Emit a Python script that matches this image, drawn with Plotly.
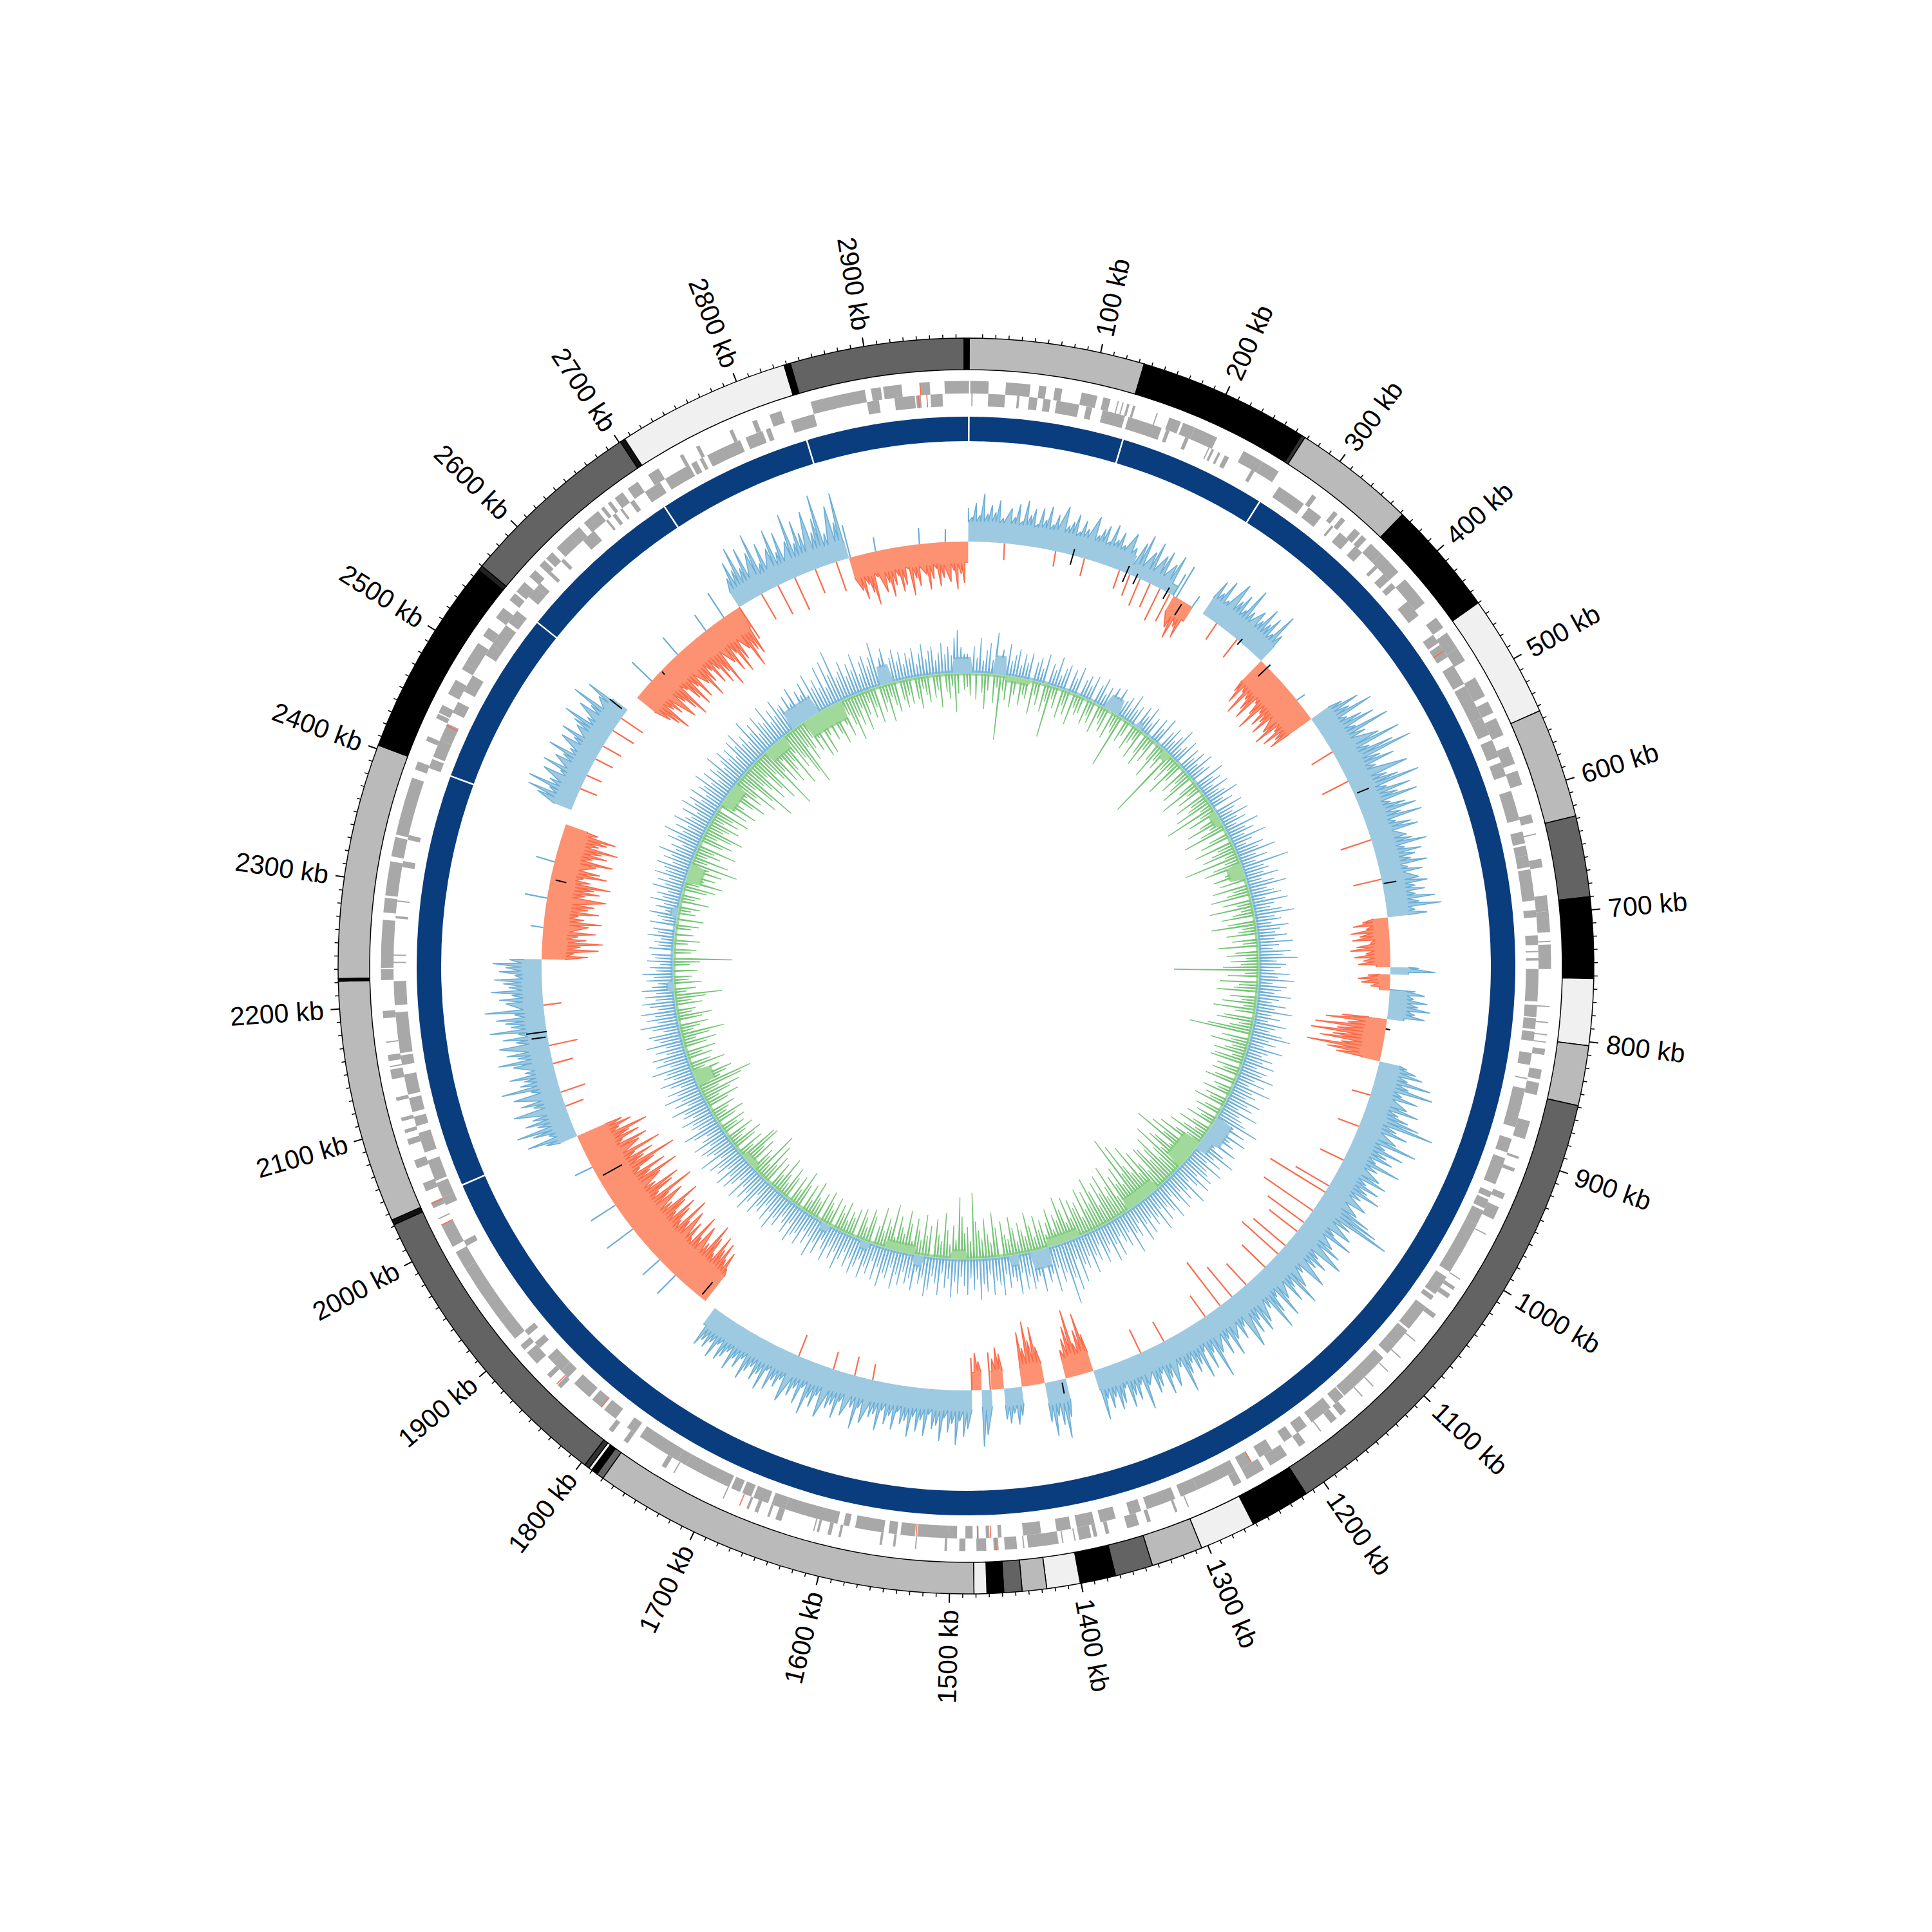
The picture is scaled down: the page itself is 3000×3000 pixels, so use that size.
import math
import plotly.graph_objects as go

GENOME_KB = 2980
ANGLE0 = 0.3
band_edges = [0,134,265,268,362,450,544,628,690,752,803,849,1216,1262,1305,1344.5,1373.4,1400.7,1426.3,1445,1458.9,1471.7,1481.5,1780,1785.5,1790.5,1793,1797,2031,2035,2221,2223,2403,2556,2560,2701,2705,2838,2843,2976,2980]
band_colors = ["#bababa","#000000","#333333","#bababa","#000000","#f0f0f0","#bababa","#636363","#000000","#f0f0f0","#bababa","#636363","#000000","#f0f0f0","#bababa","#636363","#000000","#f0f0f0","#bababa","#636363","#000000","#f0f0f0","#bababa","#636363","#000000","#f0f0f0","#333333","#636363","#111111","#bababa","#000000","#bababa","#000000","#222222","#636363","#111111","#f0f0f0","#000000","#636363","#000000"]
ring_breaks = [0,135,265,2038,2400,2553,2702,2838]
major_kb = list(range(100,3000,100))
minor_kb = list(range(0,2980,10))

fwd_runs = [(1,16),(30,50),(57,63),(70,76),(92,105),(110,116),(122,123),(126,127),(130,132),(135,137),(155,156),(166,176),(178,188),(188,208),(232,250),(250,265),(298,302),(320,324),(328,332),(342,348),(350,355),(360,372),(372,392),(400,425),(440,450),(455,470),(470,482),(498,515),(520,530),(535,550),(560,575),(581,593),(618,625),(634,635),(655,662),(685,698),(698,715),(722,723),(725,745),(775,776),(788,789),(798,799),(804,805),(810,815),(827,835),(838,848),(870,885),(900,902),(910,913),(932,937),(944,955),(968,969),(1010,1011),(1018,1021),(1025,1029),(1045,1049),(1072,1073),(1090,1091),(1105,1106),(1122,1123),(1134,1135),(1152,1158),(1162,1168),(1178,1179),(1194,1200),(1212,1228),(1234,1250),(1255,1262),(1302,1303),(1312,1314),(1335,1338),(1345,1355),(1370,1373),(1380,1383),(1385,1395),(1398,1399),(1408,1409),(1412,1437),(1440,1441),(1446,1456),(1461,1465),(1471,1479),(1488,1493),(1503,1505),(1528,1529),(1545,1547),(1556,1558),(1590,1592),(1598,1601),(1608,1610),(1612,1613),(1640,1645),(1650,1652),(1660,1663),(1668,1670),(1690,1691),(1735,1736),(1743,1747),(1780,1784),(1795,1799),(1850,1854),(1862,1866),(1878,1890),(1893,1898),(1905,1925),(1925,1975),(1975,1990),(1995,2015),(2020,2021),(2030,2035),(2045,2052),(2065,2072),(2085,2090),(2095,2098),(2105,2108),(2122,2125),(2140,2148),(2150,2151),(2155,2160),(2170,2171),(2190,2196),(2221,2230),(2231,2270),(2276,2288),(2290,2318),(2322,2338),(2340,2388),(2395,2402),(2420,2424),(2440,2444),(2445,2452),(2462,2475),(2485,2490),(2490,2498),(2495,2510),(2517,2525),(2535,2545),(2553,2560),(2562,2572),(2578,2585),(2590,2596),(2598,2605),(2610,2625),(2625,2635),(2640,2655),(2658,2661),(2665,2668),(2672,2680),(2685,2695),(2705,2715),(2735,2738),(2750,2753),(2780,2783),(2800,2804),(2815,2825),(2850,2895),(2900,2908),(2910,2925),(2940,2948),(2960,2980)]
rev_runs = [(2,3),(16,30),(40,42),(50,57),(62,68),(73,92),(98,103),(112,131),(134,163),(167,170),(184,187),(205,206),(208,210),(214,216),(220,224),(245,248),(272,297),(302,315),(326,328),(335,345),(352,360),(375,378),(385,392),(395,400),(415,430),(450,458),(460,472),(480,498),(500,530),(530,545),(550,565),(570,582),(595,620),(630,640),(642,650),(650,660),(662,688),(696,702),(717,725),(730,731),(736,738),(745,772),(775,785),(786,795),(797,805),(815,825),(836,837),(845,878),(888,900),(905,912),(910,928),(935,940),(942,950),(952,965),(965,1010),(1015,1023),(1020,1032),(1034,1038),(1045,1068),(1070,1085),(1085,1095),(1100,1118),(1115,1130),(1128,1145),(1146,1155),(1160,1180),(1185,1195),(1200,1208),(1220,1232),(1240,1250),(1255,1290),(1290,1305),(1310,1335),(1340,1350),(1362,1375),(1380,1395),(1400,1412),(1425,1440),(1458,1461),(1468,1471),(1477,1478),(1482,1488),(1495,1502),(1502,1528),(1530,1542),(1545,1552),(1556,1580),(1585,1590),(1595,1605),(1603,1640),(1640,1652),(1655,1668),(1670,1678),(1680,1688),(1690,1730),(1730,1738),(1738,1775),(1780,1788),(1800,1812),(1815,1825),(1828,1845),(1852,1860),(1860,1870),(1870,1876),(1886,1892),(1900,1905),(1990,1995),(2028,2035),(2035,2048),(2050,2068),(2075,2092),(2098,2106),(2110,2122),(2125,2142),(2150,2158),(2160,2194),(2200,2220),(2235,2236),(2241,2242),(2272,2274),(2286,2287),(2315,2320),(2338,2342),(2400,2408),(2410,2425),(2425,2440),(2450,2460),(2470,2485),(2505,2515),(2515,2535),(2538,2550),(2565,2575),(2575,2580),(2590,2593),(2605,2608),(2630,2642),(2655,2657),(2662,2665),(2670,2672),(2680,2684),(2695,2710),(2715,2738),(2740,2745),(2748,2751),(2755,2785),(2790,2805),(2808,2812),(2830,2850),(2895,2905),(2918,2935),(2936,2940),(2948,2958)]
red_gene_fwd = [1463,1676,1855,2940,2034,2015]
red_gene_rev = [1467,1478,1529,1815,2438,2938,2945,466,1240]

track1_regions = [(0,185,1,30),(185,240,1,16),(240,265,-1,26),(278,362,1,30),(362,448,-1,42),(448,688,1,32),(688,744,-1,22),(744,752,1,28),(752,770,-1,16),(770,802,1,26),(802,850,-1,28),(850,1343,1,31),(1343,1375,-1,30),(1375,1399,1,32),(1399,1425,-1,30),(1425,1445,1,26),(1445,1459,-1,28),(1459,1470,1,26),(1470,1481,-1,28),(1481,1788,1,30),(1801,2037,-1,48),(2037,2240,1,28),(2240,2394,-1,36),(2411,2540,1,28),(2557,2710,-1,35),(2710,2845,1,26),(2845,2980,-1,32)]
track1_values = [
52,38,60,41,75,44,58,47,66,39,-26,55,42,63,37,70,48,59,36,62,
45,67,40,56,-24,72,43,51,64,38,57,46,-28,69,41,53,60,37,66,44,
58,40,-30,63,42,-35,55,70,-45,48,66,-40,50,60,-55,45,62,-48,38,55,
-50,-65,-42,-58,20,30,10,50,62,45,70,40,-30,78,52,66,44,85,50,-35,
60,48,74,52,67,43,82,50,-62,-80,-55,-92,-60,-75,-88,-52,-70,-95,-58,-78,
-66,-85,15,-72,-90,-58,-82,-64,-76,55,80,60,96,48,70,88,52,105,62,-38,
78,110,55,92,120,64,84,50,-45,98,60,76,108,52,88,65,94,48,70,85,
58,90,46,68,78,-50,55,62,84,47,72,60,52,76,44,66,-45,58,70,50,
64,48,78,52,86,44,62,-40,-55,-35,-60,-46,-58,-30,-52,-62,-38,-56,-42,-50,
45,70,-35,-50,-45,-30,40,55,38,60,46,65,42,58,-70,-95,-60,-110,-75,-115,
-80,-100,-65,-118,-85,-70,45,60,72,50,88,55,95,48,75,-30,62,82,52,70,
90,115,58,78,-35,65,100,52,84,60,72,48,90,56,-40,66,80,50,74,58,
82,54,-60,70,-100,62,88,105,128,66,-92,75,50,85,-70,60,78,-55,90,52,
72,58,-65,84,48,-75,66,92,54,76,-50,60,88,46,70,95,52,-45,68,80,
55,74,-60,90,48,66,-85,58,82,50,72,-40,62,100,54,78,45,86,60,70,
50,65,92,48,-35,74,56,80,44,62,70,-40,52,88,46,68,58,75,42,64,
72,50,66,48,80,-60,-95,-70,-50,-105,-80,-62,-45,60,92,70,55,85,62,-58,
-90,-70,-100,-60,-85,45,58,40,55,48,-55,-65,-48,-58,70,88,-45,-58,-50,60,
72,48,85,52,66,44,80,56,62,40,74,50,68,46,78,54,60,42,70,50,
64,44,76,52,58,-25,70,48,82,50,-30,66,46,74,55,62,-28,80,48,68,
56,84,44,72,50,64,-35,78,46,60,52,70,42,76,54,66,48,58,74,44,
62,50,72,46,58,66,44,70,48,60,52,64,40,0,0,0,-60,-85,-70,-95,
-80,-100,-65,-90,-110,-72,40,-95,-70,-105,-60,-85,35,-98,-75,-112,-66,-88,-102,-70,
-92,-118,-74,50,-100,-80,-125,-68,-96,-110,-72,45,-88,-120,-76,-105,-64,-92,-130,-80,
-98,-70,-115,30,-85,-100,-62,-92,-78,-110,-66,-88,-75,50,78,40,64,88,52,70,
56,-30,82,48,66,-40,74,44,90,58,50,72,46,-32,62,84,52,68,-45,78,
50,70,44,88,54,62,76,46,92,-28,58,68,48,80,52,60,74,42,66,56,
76,50,-72,-50,-88,-60,-95,-68,-55,-82,20,-70,-90,-62,-52,-84,-66,-75,35,-92,
-58,-80,-70,-95,-62,-50,-86,-74,30,-65,-90,-56,-78,-68,-92,-60,-72,-84,-54,-76,
0,0,0,0,60,78,45,82,50,-28,66,40,72,-25,58,48,75,42,-30,64,
46,70,-32,52,60,80,44,-38,66,50,85,-40,48,72,42,0,0,0,0,-62,
-75,-90,-55,-68,42,-85,-60,-78,-95,-50,-72,-88,-58,-82,35,-65,-92,-70,-54,-80,
-60,-88,-72,-100,30,-66,-84,-56,-92,-74,45,-62,-96,-70,-80,-58,48,72,55,90,
52,82,-45,68,96,44,74,-50,60,88,48,78,-55,58,100,50,84,62,-40,92,
56,76,112,48,-48,88,60,105,52,-55,-70,-48,-62,-82,-40,22,-66,-52,-75,-58,
-44,-70,-60,-36,-78,-52,-65,25,-48,-72,-56,-40,-68,-55,20,-62,-45,-74,-50,-64]
track1_black = [(118,-15,10),(181,-15,12),(193,-12,6),(231,-12,8),(252,-25,-5),(330,-6,6),(372,-20,6),(545,5,25),(650,2,22),(813,0,7),(1380,5,22),(1808,-30,-5),(2159,0,32),(2153,3,25),(1984,-42,-8),(2330,-25,-8),(2537,8,32),(2597,-8,-2)]

gc_up = [
30,18,42,24,55,20,36,48,22,65,28,40,18,50,24,34,44,20,38,26,
42,16,30,38,22,46,18,34,26,48,20,32,40,16,36,24,44,18,28,36,
22,40,16,30,44,20,34,18,38,26,42,16,28,36,20,46,24,32,18,38,
26,44,20,32,16,38,24,46,18,30,40,22,34,50,20,28,42,18,36,24,
40,22,46,26,34,18,50,28,38,20,44,24,32,52,22,36,18,46,30,24,
48,26,38,20,54,30,42,24,58,32,20,46,36,62,28,44,24,75,34,40,
30,52,24,42,60,28,38,48,22,56,34,26,44,62,30,40,24,50,36,28,
46,26,54,32,22,50,38,60,28,42,34,24,48,30,56,22,44,36,26,52,
34,24,46,30,58,26,40,22,52,36,28,48,62,30,42,24,56,34,26,44,
30,50,24,42,36,56,28,46,22,60,32,40,26,52,34,44,24,58,30,38,
46,70,32,54,26,62,38,48,30,58,24,44,66,34,50,28,60,36,42,54,
30,58,40,26,64,34,48,28,56,38,24,60,44,32,52,28,62,36,46,30,
54,34,60,26,46,38,68,30,50,40,28,58,36,62,32,44,56,26,48,38,
64,34,52,44,70,32,80,58,98,46,60,36,72,42,54,30,66,40,48,58,
38,56,30,62,42,34,50,28,60,44,36,58,26,52,40,64,32,48,30,56,
42,28,54,36,60,32,46,24,58,40,30,52,62,34,44,26,56,38,48,30,
52,36,60,28,46,40,62,32,54,26,48,38,58,30,44,56,34,50,28,42,
60,34,48,30,56,40,26,52,36,62,32,46,28,54,38,44,58,30,50,36,
28,48,38,60,34,52,30,46,40,56,26,44,62,36,50,32,58,28,42,54,
36,58,30,48,40,54,28,62,34,44,50,30,56,38,26,46,60,32,42,36,
52,30,44,38,58,28,48,34,60,36,50,26,42,56,32,46,40,62,30,52,
38,54,30,46,28,58,36,44,50,26,42,60,32,48,34,56,28,40,52,30,
46,28,50,34,24,42,30,48,26,36,20,40,28,34,18,38,24,30,20,42,
26,34,18,40,22,30,44,20,36,24,46,28,38,22,48,30,42,26,50,34,
38,52,28,44,34,56,30,40,24,50,36,60,32,46,28,54,38,30,48,26,
56,36,48,30,52,28,44,38,58,32,50,26,46,36,60,30,42,54,34,48,
28,54,40,60,34,46,30,64,38,50,28,56,42,36,62,30,48,34,58,40,
44,30,52,36,60,28,48,38,56,32,64,40,50,34,66,30,70,46,82,36,
44,58,32,50,38,62,28,46,54,36,48,70,30,42,56,26,38,50,30,44,
24,40,32,46,20,36,50,26,38,44,22,34,48,30,42,28,55,67,40,30]
gc_down = [
22,35,14,41,18,30,55,26,16,45,20,101,24,38,15,48,28,19,42,25,
30,16,52,22,36,18,44,27,82,20,33,14,46,24,38,17,50,21,31,26,
18,40,24,34,15,46,20,28,38,16,44,22,30,85,19,36,25,14,42,28,
20,48,16,34,52,22,40,18,30,58,24,36,14,117,26,44,20,62,32,17,
46,24,38,55,18,30,66,22,42,16,52,28,36,60,20,82,26,48,15,34,
58,22,40,70,18,32,48,16,62,26,38,54,20,87,24,44,60,18,30,50,
22,42,16,56,26,36,62,18,46,24,68,20,34,52,16,44,70,22,30,48,
18,40,24,62,14,36,50,20,44,28,56,132,22,48,16,60,30,38,64,18,
42,24,54,20,66,32,16,48,58,22,36,70,98,18,44,28,60,24,34,50,
20,46,52,16,38,26,42,18,34,48,14,30,22,44,16,36,26,50,18,28,
40,16,34,24,46,18,30,52,20,38,60,26,44,70,30,80,55,103,36,62,
70,42,88,50,34,76,58,40,65,70,30,48,72,36,90,44,60,100,52,118,
38,70,44,60,28,82,50,36,74,46,67,30,56,80,40,62,34,70,26,52,
44,60,32,67,28,50,72,36,46,24,58,38,20,44,30,54,22,40,62,26,
36,48,20,42,60,26,34,55,18,46,70,24,38,62,30,44,58,103,28,50,
40,66,96,30,52,22,44,70,26,36,60,18,48,32,64,24,40,56,20,46,
66,28,38,54,20,70,34,46,24,60,30,16,42,52,22,36,48,18,44,28,
36,20,48,28,40,16,46,24,34,50,18,42,26,30,54,20,44,16,38,59,
24,44,18,36,50,20,32,58,24,42,16,48,28,62,22,75,30,40,18,50,
34,66,63,24,44,16,38,52,20,30,46,18,36,26,42,14,32,48,22,28,
40,18,34,54,24,44,62,30,70,87,38,50,60,28,44,22,55,34,18,40,
26,48,16,36,52,22,44,68,20,32,46,18,38,54,24,30,16,42,26,48,
74,20,34,14,44,24,30,12,38,18,26,42,92,16,28,36,12,22,40,18,
30,14,24,36,18,42,12,28,20,34,16,46,22,30,14,38,50,24,60,28,
44,18,52,30,74,24,56,20,40,28,62,18,36,50,22,44,61,26,34,48,
20,42,30,54,16,46,24,58,34,20,44,63,26,50,38,72,28,60,95,34,
48,70,30,58,80,36,50,103,42,64,28,72,54,40,85,32,60,46,76,97,
36,62,44,28,54,34,68,22,68,40,30,52,24,46,64,20,38,58,26,44,
70,34,50,24,60,38,20,46,30,56,18,42,28,60,22,36,48,16,32,44,
26,40,16,34,50,20,30,42,18,36,24,52,15,28,40,20,60,32,18,26]
gc_up_bands = [(2680,2730,30),(2840,2860,30),(2960,2980,25),(0,8,25),(40,60,30),(230,255,25),(290,300,12),(1000,1040,30),(1040,1060,20),(1355,1385,30),(1405,1420,18),(1555,1570,18),(1645,1660,14),(1715,1730,14),(2195,2210,12),(2310,2325,12)]
gc_down_bands = [(2700,2770,30),(2620,2660,22),(2510,2550,22),(2370,2400,25),(2035,2060,30),(1870,1900,12),(1570,1620,15),(1490,1510,15),(1300,1355,15),(1150,1210,20),(1050,1100,30),(574,600,25),(480,505,14),(350,365,14),(60,100,10)]

BG = 659
BG2 = 455
RO, RI = 975, 926
GENE_MID, GENE_H = 889, 19.5
RING_LO, RING_HI = 815, 853
STEP1, STEP2 = 0.5, 0.6
SIZE = 2984
MIN_DRAWN = 20

def deg(kb):
    return kb * 360.0 / GENOME_KB

fig = go.Figure()

def add_bar(base, h, theta, width, color, lw=0, lc="#000000"):
    fig.add_trace(go.Barpolar(r=h, base=base, theta=theta, width=width, marker=dict(color=color, line=dict(color=lc, width=lw)), hoverinfo="skip", showlegend=False))

def add_line(r, th, color, w):
    fig.add_trace(go.Scatterpolar(r=r, theta=th, mode="lines", line=dict(color=color, width=w), hoverinfo="skip", showlegend=False, connectgaps=False))

def add_area(r, th, fill):
    fig.add_trace(go.Scatterpolar(r=r, theta=th, mode="lines", line=dict(width=0), fill="toself", fillcolor=fill, hoverinfo="skip", showlegend=False))

starts, ends = band_edges[:-1], band_edges[1:]
add_bar(RI, [RO-RI]*len(band_colors), [deg((a+b)/2) for a, b in zip(starts, ends)], [deg(b-a) for a, b in zip(starts, ends)], band_colors, 1.5)

tr, tt = [], []
for k in minor_kb:
    if k % 100:
        tr += [RO, RO+6, None]; tt += [deg(k), deg(k), None]
add_line(tr, tt, "#000000", 1.5)
tr, tt = [], []
for k in major_kb:
    tr += [RO, RO+14, None]; tt += [deg(k), deg(k), None]
add_line(tr, tt, "#000000", 2)

for runs, base in ((fwd_runs, GENE_MID), (rev_runs, GENE_MID-GENE_H)):
    add_bar(base, [GENE_H]*len(runs), [deg((a+b)/2) for a, b in runs], [deg(b-a) for a, b in runs], "#a8a8a8")
for pts, base in ((red_gene_fwd, GENE_MID), (red_gene_rev, GENE_MID-GENE_H)):
    add_bar(base, [GENE_H]*len(pts), [deg(k) for k in pts], [0.1]*len(pts), "#fb6a4a")

edges = ring_breaks + [GENOME_KB]
a0, a1 = edges[:-1], edges[1:]
add_bar(RING_LO, [RING_HI-RING_LO]*len(a0), [deg((a+b)/2) for a, b in zip(a0, a1)], [deg(b-a) for a, b in zip(a0, a1)], "#0a3d7e")
tr, tt = [], []
for k in ring_breaks:
    tr += [RING_LO-1, RING_HI+1, None]; tt += [deg(k), deg(k), None]
add_line(tr, tt, "#ffffff", 2.5)

for s, e, sign, floor in track1_regions:
    t0, t1 = deg(s), deg(e)
    base_r = BG+sign*floor
    peaks, xr, xt = [], [], []
    for i, v in enumerate(track1_values):
        d = i*STEP1
        if d < t0 or d >= t1:
            continue
        if v*sign > 0:
            peaks.append((d, abs(v)))
        elif v != 0:
            xr += [BG, BG+v, None]; xt += [d-0.1, d, None]
    rs, ts = [base_r], [t0]
    for j, (d, v) in enumerate(peaks):
        rs.append(BG+sign*max(v, floor)); ts.append(d)
        nxt = peaks[j+1][1] if j+1 < len(peaks) else floor
        dip = floor + 0.12*max(0, min(v, nxt)-floor)
        rs.append(BG+sign*dip); ts.append(min(d+0.12*STEP1, t1))
    rs.append(base_r); ts.append(t1)
    fill, line, other = ("#9ecae1", "#6baed6", "#fb6a4a") if sign > 0 else ("#fc9272", "#fb6a4a", "#6baed6")
    add_area(rs+[BG]*len(ts), ts+ts[::-1], fill)
    add_line(rs, ts, line, 1.6)
    if xr:
        add_line(xr, xt, other, 2.2)
tr, tt = [], []
for k, lo, hi in track1_black:
    tr += [BG+lo, BG+hi, None]; tt += [deg(k), deg(k)+0.05, None]
add_line(tr, tt, "#000000", 2)

def band_height(d, bands, default):
    for a, b, h in bands:
        if deg(a) <= d < deg(b):
            return h
    return default

for vals, bands, sign, fill, line in ((gc_up, gc_up_bands, 1, "#9ecae1", "#6baed6"), (gc_down, gc_down_bands, -1, "#a1d99b", "#74c476")):
    rs, ts, lr, lt = [], [], [], []
    for i, v in enumerate(vals):
        d = i*STEP2
        h = band_height(d, bands, 4)
        rb = BG2+sign*h
        if v < MIN_DRAWN:
            rs.append(rb); ts.append(d)
            continue
        rs += [rb, BG2+sign*max(v, h), rb]; ts += [d-0.2, d, d+0.03]
        if v > h:
            lr += [rb-sign*3, BG2+sign*v, rb-sign*3, None]; lt += [d-0.2, d, d+0.03, None]
    rs.append(rs[0]); ts.append(360)
    add_area(rs+[BG2]*len(ts), ts+ts[::-1], fill)
    add_line(lr, lt, line, 1.3)

labels = []
for k in major_kb:
    th = deg(k)+ANGLE0
    rad = math.radians(th)
    rc = 1003 + (0.5*(140 if k >= 1000 else 120))
    labels.append(dict(text=f"{k} kb", x=0.5+rc*math.sin(rad)/SIZE, y=0.5+rc*math.cos(rad)/SIZE, xref="paper", yref="paper", xanchor="center", yanchor="middle", showarrow=False, textangle=(th-90) if th < 180 else (th-270), font=dict(family="Liberation Sans", size=41, color="#000000")))

fig.update_layout(width=SIZE, height=SIZE, margin=dict(l=0, r=0, t=0, b=0), paper_bgcolor="#ffffff", showlegend=False, annotations=labels,
    polar=dict(domain=dict(x=[0, 1], y=[0, 1]), bgcolor="#ffffff", barmode="overlay", bargap=0,
               radialaxis=dict(visible=False, range=[0, SIZE/2]),
               angularaxis=dict(visible=False, rotation=90-ANGLE0, direction="clockwise")))
fig.write_html("out.html")
